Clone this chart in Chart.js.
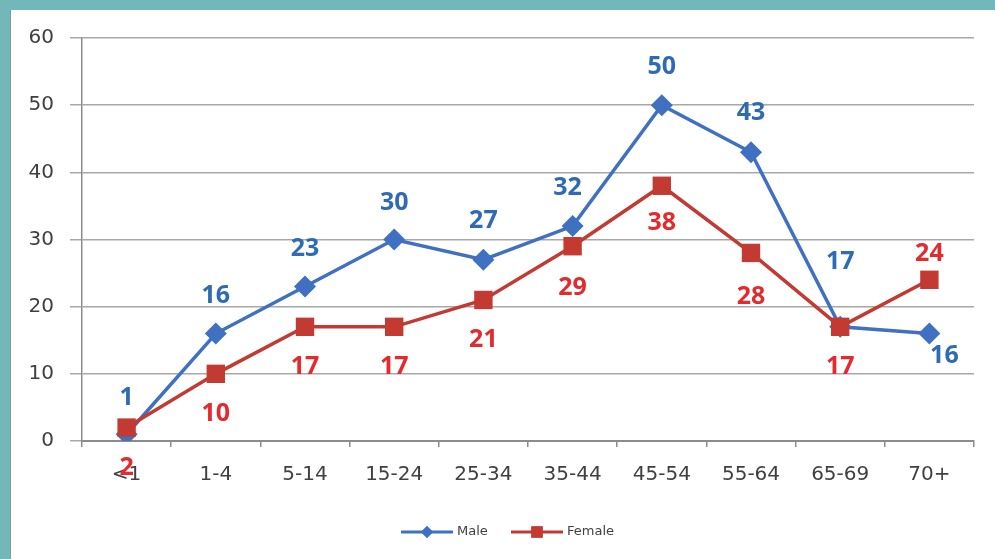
<!DOCTYPE html>
<html>
<head>
<meta charset="utf-8">
<script src="https://cdn.jsdelivr.net/npm/chart.js@4.4.1/dist/chart.umd.min.js"></script>
<style>
  html, body { margin: 0; padding: 0; background: #72b8bb; }
  #wrap {
    position: absolute; left: 10px; top: 10px; width: 985px; height: 549px;
    background: #fff; border-left: 1px solid #8a9a9a; box-sizing: border-box;
  }
</style>
</head>
<body>
<div id="wrap"><canvas id="chart" width="984" height="549"></canvas></div>
<script>
const ageGroups = ["<1", "1-4", "5-14", "15-24", "25-34", "35-44", "45-54", "55-64", "65-69", "70+"];
const male = [1, 16, 23, 30, 27, 32, 50, 43, 17, 16];
const female = [2, 10, 17, 17, 21, 29, 38, 28, 17, 24];
const yTicks = [0, 10, 20, 30, 40, 50, 60];

const blue = "#3f70c2";
const red = "#c23a32";
const blueText = "#2f6bb3";
const redText = "#e42a2d";

// where each value label sits relative to its point (px)
const maleLabelOffset = [[0, -36], [0, -38], [0, -38], [0, -37], [0, -39], [-5, -38], [0, -38], [0, -39], [0, -65], [15, 22]];
const femaleLabelOffset = [[0, 40], [0, 40], [0, 40], [0, 40], [0, 40], [0, 42], [0, 37], [0, 44], [0, 40], [0, -26]];

const valueLabels = {
  id: "valueLabels",
  afterDatasetsDraw(chart) {
    const ctx = chart.ctx;
    ctx.save();
    ctx.font = "bold 25px 'Open Sans'";
    ctx.textAlign = "center";
    ctx.textBaseline = "middle";
    const sets = [[0, maleLabelOffset, blueText], [1, femaleLabelOffset, redText]];
    sets.forEach(([i, offs, color]) => {
      const meta = chart.getDatasetMeta(i);
      ctx.fillStyle = color;
      meta.data.forEach((pt, j) => {
        ctx.fillText(chart.data.datasets[i].data[j], pt.x + offs[j][0], pt.y + offs[j][1]);
      });
    });
    ctx.restore();
  }
};

const lineLegend = {
  id: "lineLegend",
  afterDraw(chart) {
    const ctx = chart.ctx;
    const y = 522;
    const items = [
      { label: "Male", color: blue, style: "rectRot", r: 6, x: 390 },
      { label: "Female", color: red, style: "rect", r: 8, x: 500 }
    ];
    ctx.save();
    ctx.font = "13px 'DejaVu Sans'";
    ctx.textBaseline = "middle";
    items.forEach(it => {
      ctx.strokeStyle = it.color;
      ctx.lineWidth = 3;
      ctx.beginPath();
      ctx.moveTo(it.x, y);
      ctx.lineTo(it.x + 52, y);
      ctx.stroke();
      ctx.fillStyle = it.color;
      Chart.helpers.drawPoint(ctx, { pointStyle: it.style, radius: it.r, borderWidth: 0 }, it.x + 26, y);
      ctx.fill();
      ctx.fillStyle = "#404040";
      ctx.fillText(it.label, it.x + 56, y);
    });
    ctx.restore();
  }
};

new Chart(document.getElementById("chart"), {
  type: "line",
  data: {
    labels: ageGroups,
    datasets: [
      {
        label: "Male",
        data: male,
        order: 1,
        borderColor: blue,
        backgroundColor: blue,
        borderWidth: 3.5,
        pointStyle: "rectRot",
        pointRadius: 11,
        pointBorderWidth: 0,
        tension: 0
      },
      {
        label: "Female",
        data: female,
        order: 0,
        borderColor: red,
        backgroundColor: red,
        borderWidth: 3.5,
        pointStyle: "rect",
        pointRadius: 13,
        pointBorderWidth: 0,
        tension: 0
      }
    ]
  },
  options: {
    responsive: false,
    animation: false,
    layout: { padding: { top: 28, right: 21, left: 0, bottom: 0 } },
    plugins: {
      legend: { display: false },
      tooltip: { enabled: false }
    },
    scales: {
      x: {
        offset: true,
        afterFit: s => { s.height = 118; },
        grid: { offset: true, drawOnChartArea: false, tickLength: 6, color: "#8c8c8c", lineWidth: 1.5 },
        border: { color: "#8c8c8c", width: 2 },
        ticks: { padding: 16, color: "#404040", font: { family: "DejaVu Sans", size: 20 } }
      },
      y: {
        min: 0,
        max: 60,
        afterFit: s => { s.width = 71; },
        afterBuildTicks: s => { s.ticks = yTicks.map(v => ({ value: v })); },
        grid: { color: "#a8a8a8", lineWidth: 1.5, tickLength: 12 },
        border: { color: "#8c8c8c", width: 1.5 },
        ticks: { padding: 16, color: "#404040", font: { family: "DejaVu Sans", size: 20 } }
      }
    }
  },
  plugins: [valueLabels, lineLegend]
});
</script>
</body>
</html>
